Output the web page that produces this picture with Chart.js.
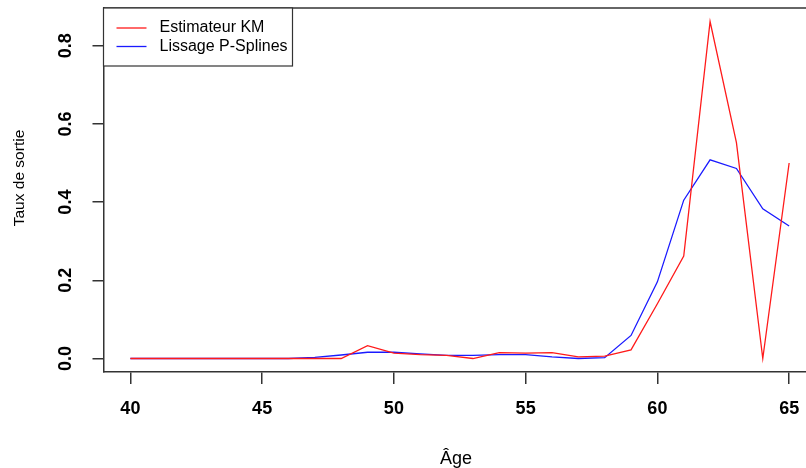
<!DOCTYPE html>
<html>
<head>
<meta charset="utf-8">
<script src="https://cdn.jsdelivr.net/npm/chart.js@4/dist/chart.umd.min.js"></script>
<style>
  html, body { margin: 0; padding: 0; background: #fff; overflow: hidden; }
  canvas { display: block; }
</style>
</head>
<body>
<canvas id="tauxChart" width="806" height="468"></canvas>
<script>
// Ages and exit rates
const ages = [40, 41, 42, 43, 44, 45, 46, 47, 48, 49, 50, 51, 52,
              53, 54, 55, 56, 57, 58, 59, 60, 61, 62, 63, 64, 65];
const tauxKM = [0, 0, 0, 0, 0, 0, 0, 0, 0, 0.033, 0.014, 0.010, 0.008,
                0, 0.015, 0.014, 0.015, 0.004, 0.006, 0.022, 0.140, 0.262, 0.862, 0.552, 0, 0.5];
const tauxPSplines = [0, 0, 0, 0, 0, 0, 0, 0.003, 0.009, 0.016, 0.016, 0.012, 0.008,
                      0.008, 0.010, 0.010, 0.004, 0.0, 0.002, 0.059, 0.196, 0.405, 0.508, 0.486, 0.383, 0.339];
const xTicks = [40, 45, 50, 55, 60, 65];
const yTicks = [0, 0.2, 0.4, 0.6, 0.8];
const yTickLabels = ['0.0', '0.2', '0.4', '0.6', '0.8'];

const FONT = '"Liberation Sans", Arial, Helvetica, sans-serif';
const AXIS_COLOR = '#333';

// Box, rotated y labels, axis titles and legend, drawn over the chart
const rPlotDecor = {
    id: 'rPlotDecor',
    afterDraw(chart) {
        const ctx = chart.ctx;
        const area = chart.chartArea;
        const yScale = chart.scales.y;
        ctx.save();

        // top edge of the plot box
        ctx.strokeStyle = AXIS_COLOR;
        ctx.lineWidth = 1.5;
        ctx.beginPath();
        ctx.moveTo(area.left, area.top);
        ctx.lineTo(area.right, area.top);
        ctx.stroke();

        // y tick labels, rotated, bold
        ctx.fillStyle = '#000';
        ctx.font = 'bold 18px ' + FONT;
        ctx.textAlign = 'center';
        ctx.textBaseline = 'middle';
        yTicks.forEach((v, i) => {
            const py = yScale.getPixelForValue(v);
            ctx.save();
            ctx.translate(66.5, py);
            ctx.rotate(-Math.PI / 2);
            ctx.fillText(yTickLabels[i], 0, 0);
            ctx.restore();
        });

        // axis titles
        ctx.font = '15.5px ' + FONT;
        ctx.save();
        ctx.translate(20, 178);
        ctx.rotate(-Math.PI / 2);
        ctx.fillText('Taux de sortie', 0, 0);
        ctx.restore();
        ctx.font = '18px ' + FONT;
        ctx.textBaseline = 'alphabetic';
        ctx.fillText('Âge', 456, 464);

        // legend box
        const lx = area.left, ly = area.top, lw = 189, lh = 58;
        ctx.fillStyle = '#fff';
        ctx.fillRect(lx, ly, lw, lh);
        ctx.strokeStyle = AXIS_COLOR;
        ctx.lineWidth = 1.2;
        ctx.strokeRect(lx, ly, lw, lh);
        ctx.font = '16px ' + FONT;
        ctx.textAlign = 'left';
        ctx.textBaseline = 'middle';
        chart.data.datasets.forEach((ds, i) => {
            const yy = ly + 20 + i * 18.5;
            ctx.strokeStyle = ds.borderColor;
            ctx.lineWidth = 1.3;
            ctx.beginPath();
            ctx.moveTo(lx + 13, yy);
            ctx.lineTo(lx + 43, yy);
            ctx.stroke();
            ctx.fillStyle = '#000';
            ctx.fillText(ds.label, lx + 56, yy);
        });
        ctx.restore();
    }
};

const ctx = document.getElementById('tauxChart');
const chart = new Chart(ctx, {
    type: 'line',
    data: {
        datasets: [{
            label: 'Estimateur KM',
            data: ages.map((a, i) => ({ x: a, y: tauxKM[i] })),
            borderColor: '#ff1a1a',
            borderWidth: 1.3,
            pointRadius: 0,
            tension: 0,
            fill: false
        }, {
            label: 'Lissage P-Splines',
            data: ages.map((a, i) => ({ x: a, y: tauxPSplines[i] })),
            borderColor: '#1a1aff',
            borderWidth: 1.3,
            pointRadius: 0,
            tension: 0,
            fill: false
        }]
    },
    options: {
        responsive: false,
        devicePixelRatio: 1,
        animation: false,
        layout: { padding: { top: 8, left: 0, right: 0, bottom: 0 } },
        plugins: {
            legend: { display: false },
            tooltip: { enabled: false }
        },
        scales: {
            x: {
                type: 'linear',
                min: 38.98,
                max: 65.64,
                afterFit: (scale) => {
                    scale.height = 96;
                    scale.paddingLeft = 0;
                    scale.paddingRight = 0;
                },
                afterBuildTicks: (scale) => {
                    scale.ticks = xTicks.map(v => ({ value: v }));
                },
                grid: {
                    drawOnChartArea: false,
                    drawTicks: true,
                    tickLength: 12,
                    color: AXIS_COLOR,
                    lineWidth: 1.5
                },
                border: { display: true, color: AXIS_COLOR, width: 1.5 },
                ticks: {
                    color: '#000',
                    font: { family: FONT, size: 18, weight: 'bold' },
                    padding: 14,
                    maxRotation: 0,
                    autoSkip: false,
                    callback: (v) => String(v)
                }
            },
            y: {
                type: 'linear',
                min: -0.0345,
                max: 0.8965,
                afterFit: (scale) => {
                    scale.width = 103.5;
                    scale.paddingTop = 0;
                    scale.paddingBottom = 0;
                },
                afterBuildTicks: (scale) => {
                    scale.ticks = yTicks.map(v => ({ value: v }));
                },
                grid: {
                    drawOnChartArea: false,
                    drawTicks: true,
                    tickLength: 11,
                    color: AXIS_COLOR,
                    lineWidth: 1.5
                },
                border: { display: true, color: AXIS_COLOR, width: 1.5 },
                ticks: { display: false }
            }
        }
    },
    plugins: [rPlotDecor]
});
</script>
</body>
</html>
